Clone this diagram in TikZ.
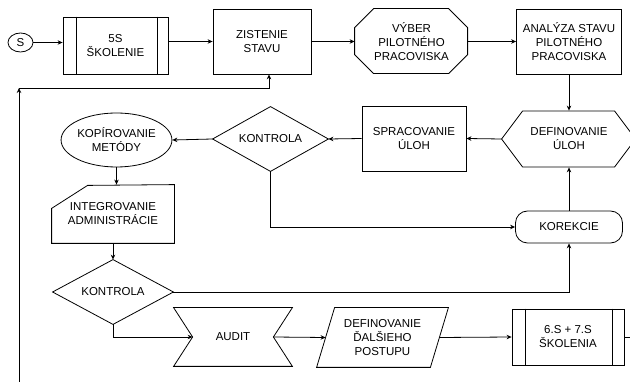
\documentclass[tikz,border=0pt]{standalone}
\usepackage{fontspec}
\setmainfont{Liberation Sans}
\usetikzlibrary{arrows.meta,shapes.geometric,calc}
\newcommand\fsz{\fontsize{11.5}{14}\selectfont}
\begin{document}
\begin{tikzpicture}[x=1pt,y=-1pt,
  base/.style={inner sep=0pt, align=center, font=\fsz},
  rbox/.style={base, draw, rectangle},
  frame/.style={base, rectangle},
  outline/.style={draw, line width=0.8pt},
  arr/.style={draw, line width=0.8pt, -{Stealth[length=5pt,width=4.5pt]}},
  conn/.style={draw, line width=0.8pt},
  line width=0.8pt]
\useasboundingbox[fill=white] (0,0) rectangle (630,382);

% nodes
\node[base, draw, ellipse, minimum width=25pt, minimum height=19pt] (s) at (20.5,42.5) {S};
\node[rbox, minimum width=105pt, minimum height=57pt] (sk5) at (115.5,45.5) {5S\\ŠKOLENIE};
\node[rbox, minimum width=98pt, minimum height=65pt] (zist) at (262,41.5) {ZISTENIE\\STAVU};
\node[frame, minimum width=113pt, minimum height=65pt] (vyber) at (411.5,41.5) {VÝBER\\PILOTNÉHO\\PRACOVISKA};
\node[rbox, minimum width=105pt, minimum height=65pt] (anal) at (569,41.5) {ANALÝZA STAVU\\PILOTNÉHO\\PRACOVISKA};
\node[frame, minimum width=134pt, minimum height=56pt] (defu) at (569,139) {DEFINOVANIE\\ÚLOH};
\node[rbox, minimum width=104pt, minimum height=65pt] (sprac) at (414,138.5) {SPRACOVANIE\\ÚLOH};
\node[frame, minimum width=115pt, minimum height=64pt] (kon1) at (270.5,139) {KONTROLA};
\node[base, draw, ellipse, minimum width=107pt, minimum height=54pt] (kop) at (116.5,140) {KOPÍROVANIE\\METÓDY};
\node[frame, minimum width=122pt, minimum height=58pt] (integ) at (113,214) {INTEGROVANIE\\ADMINISTRÁCIE};
\node[rbox, rounded corners=12pt, minimum width=107pt, minimum height=32pt] (kor) at (569,227) {KOREKCIE};
\node[frame, minimum width=120pt, minimum height=64pt] (kon2) at (113,292) {KONTROLA};
\node[frame, minimum width=118pt, minimum height=58pt] (audit) at (233,337) {AUDIT};
\node[frame, minimum width=131pt, minimum height=59pt] (dalsi) at (382.5,337.5) {DEFINOVANIE\\ĎALŠIEHO\\POSTUPU};
\node[rbox, minimum width=112pt, minimum height=56pt] (sk6) at (568,337) {6.S + 7.S\\ŠKOLENIA};

% helper coordinates
\path (audit.west) ++(19,0) coordinate (auditL);
\path (audit.east) ++(-19,0) coordinate (auditR);
\path (dalsi.west) ++(9,0) coordinate (dalsiL);
\path (dalsi.east) ++(-9,0) coordinate (dalsiR);
\coordinate (lb) at (19,382);
\coordinate (lt) at (19,88);
\coordinate (rout) at (632,337);

% outlines
\draw[outline] ([xshift=14pt]sk5.north west) -- ([xshift=14pt]sk5.south west);
\draw[outline] ([xshift=-11pt]sk5.north east) -- ([xshift=-11pt]sk5.south east);
\draw[outline] ([xshift=14pt]sk6.north west) -- ([xshift=14pt]sk6.south west);
\draw[outline] ([xshift=-12pt]sk6.north east) -- ([xshift=-12pt]sk6.south east);
\draw[outline] (vyber.north west) ++(19,0) -- ++(75,0) -- ++(19,19) -- ++(0,27) -- ++(-19,19) -- ++(-75,0) -- ++(-19,-19) -- ++(0,-27) -- cycle;
\draw[outline] (defu.west) -- ++(21,-28) -- ++(92,0) -- ++(21,28) -- ++(-21,28) -- ++(-92,0) -- cycle;
\draw[outline] (kon1.west) -- (kon1.north) -- (kon1.east) -- (kon1.south) -- cycle;
\draw[outline] (kon2.west) -- (kon2.north) -- (kon2.east) -- (kon2.south) -- cycle;
\draw[outline] (integ.south west) -- ++(0,-35) -- ++(36,-23) -- (integ.north east) -- (integ.south east) -- cycle;
\draw[outline] (audit.north west) -- (audit.north east) -- (auditR) -- (audit.south east) -- (audit.south west) -- (auditL) -- cycle;
\draw[outline] ([xshift=18pt]dalsi.north west) -- (dalsi.north east) -- ([xshift=-18pt]dalsi.south east) -- (dalsi.south west) -- cycle;

% connectors
\draw[arr] (s.east) -- (s.east -| sk5.west);
\draw[arr] (sk5.east |- zist.west) -- (zist.west);
\draw[arr] (zist.east) -- (vyber.west);
\draw[arr] (vyber.east) -- (anal.west);
\draw[arr] (anal.south) -- (defu.north);
\draw[arr] (defu.west) -- (sprac.east);
\draw[arr] (sprac.west) -- (kon1.east);
\draw[arr] (kon1.west) -- (kop.east);
\draw[arr] (kop.south) -- (kop.south |- integ.north);
\draw[arr] (integ.south) -- (kon2.north);
\draw[arr] (kon1.south) |- (kor.west);
\draw[arr] (kor.north) -- (defu.south);
\draw[arr] (kon2.east) -| (kor.south);
\draw[arr] (kon2.south) |- (auditL);
\draw[arr] (auditR) -- (dalsiL);
\draw[arr] (dalsiR) -- (sk6.west);
\draw[conn] (sk6.east) -- (rout);
\draw[arr] (lb) -- (lt);
\draw[arr] (lt) -| ([xshift=7pt]zist.south);
\end{tikzpicture}
\end{document}
